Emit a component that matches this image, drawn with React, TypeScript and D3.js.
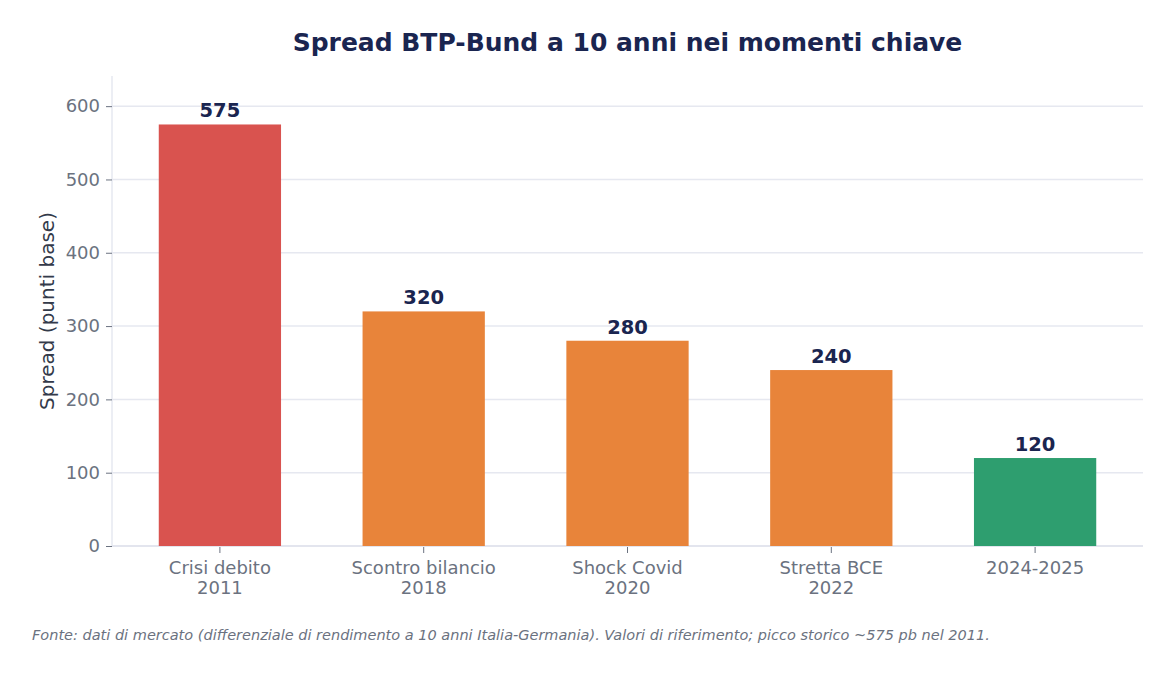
import React, { useEffect, useRef } from 'react';
import * as d3 from 'd3';

const categories = ['Crisi debito\n2011', 'Scontro bilancio\n2018', 'Shock Covid\n2020', 'Stretta BCE\n2022', '2024-2025'];
const spreadValues = [575, 320, 280, 240, 120];
const barColors = ['#d9534f', '#e8843a', '#e8843a', '#e8843a', '#2e9e6f'];
const yTicks = [0, 100, 200, 300, 400, 500, 600];

const titleText = 'Spread BTP-Bund a 10 anni nei momenti chiave';
const yLabel = 'Spread (punti base)';
const sourceNote =
  'Fonte: dati di mercato (differenziale di rendimento a 10 anni Italia-Germania). Valori di riferimento; picco storico ~575 pb nel 2011.';

const W = 1175;
const H = 675;
const FONT = "'DejaVu Sans', sans-serif";

export default function App() {
  const svgRef = useRef<SVGSVGElement>(null);

  useEffect(() => {
    if (!svgRef.current) return;
    const svg = d3.select(svgRef.current);
    svg.selectAll('*').remove();

    const margin = { top: 76, right: 32, bottom: 129, left: 112 };
    const width = W - margin.left - margin.right;
    const height = H - margin.top - margin.bottom;

    const g = svg.append('g').attr('transform', `translate(${margin.left},${margin.top})`);

    const x = d3
      .scaleBand<string>()
      .domain(categories)
      .range([6, width - 6])
      .paddingInner(0.4)
      .paddingOuter(0.2);

    const y = d3
      .scaleLinear()
      .domain([0, (d3.max(spreadValues) || 0) * 1.115])
      .range([height, 0]);

    // grid
    g.selectAll('.grid')
      .data(yTicks)
      .enter()
      .append('line')
      .attr('x1', 0)
      .attr('x2', width)
      .attr('y1', d => y(d))
      .attr('y2', d => y(d))
      .attr('stroke', '#e6e8f0')
      .attr('stroke-width', 1.5);

    // axis lines
    g.append('line')
      .attr('x1', 0)
      .attr('x2', 0)
      .attr('y1', 0)
      .attr('y2', height)
      .attr('stroke', '#e6e8f0')
      .attr('stroke-width', 1.5);
    g.append('line')
      .attr('x1', 0)
      .attr('x2', width)
      .attr('y1', height)
      .attr('y2', height)
      .attr('stroke', '#e3e5ee')
      .attr('stroke-width', 2);

    // bars
    g.selectAll('.bar')
      .data(spreadValues)
      .enter()
      .append('rect')
      .attr('x', (_, i) => x(categories[i]) as number)
      .attr('width', x.bandwidth())
      .attr('y', d => y(d))
      .attr('height', d => height - y(d))
      .attr('fill', (_, i) => barColors[i]);

    // value labels
    g.selectAll('.val')
      .data(spreadValues)
      .enter()
      .append('text')
      .attr('x', (_, i) => (x(categories[i]) as number) + x.bandwidth() / 2)
      .attr('y', d => y(d) - 7)
      .attr('text-anchor', 'middle')
      .attr('font-family', FONT)
      .attr('font-size', 19.5)
      .attr('font-weight', 'bold')
      .attr('fill', '#1a2550')
      .text(d => d);

    // y axis
    const yAxis = g.append('g').call(
      d3.axisLeft(y).tickValues(yTicks).tickSize(6).tickSizeOuter(0).tickPadding(6)
    );
    yAxis.select('.domain').remove();
    yAxis.selectAll('line').attr('stroke', '#6b7280');
    yAxis
      .selectAll('text')
      .attr('font-family', FONT)
      .attr('font-size', 18)
      .attr('fill', '#6b7280');

    // x axis
    const xAxis = g
      .append('g')
      .attr('transform', `translate(0,${height + 1})`)
      .call(d3.axisBottom(x).tickSize(6).tickSizeOuter(0).tickFormat(() => ''));
    xAxis.select('.domain').remove();
    xAxis.selectAll('line').attr('stroke', '#6b7280');

    xAxis
      .selectAll('.tick')
      .append('text')
      .attr('text-anchor', 'middle')
      .attr('font-family', FONT)
      .attr('font-size', 18)
      .attr('fill', '#6b7280')
      .each(function (d) {
        const lines = String(d).split('\n');
        const t = d3.select(this);
        lines.forEach((ln, k) => {
          t.append('tspan')
            .attr('x', 0)
            .attr('y', 27 + k * 20)
            .text(ln);
        });
      });

    // y axis title
    svg
      .append('text')
      .attr('transform', `translate(54,${margin.top + height / 2}) rotate(-90)`)
      .attr('text-anchor', 'middle')
      .attr('font-family', FONT)
      .attr('font-size', 20)
      .attr('fill', '#333a4a')
      .text(yLabel);

    // title
    svg
      .append('text')
      .attr('x', margin.left + width / 2)
      .attr('y', 51)
      .attr('text-anchor', 'middle')
      .attr('font-family', FONT)
      .attr('font-size', 25)
      .attr('font-weight', 'bold')
      .attr('fill', '#1a2550')
      .text(titleText);

    // source note
    svg
      .append('text')
      .attr('x', 32)
      .attr('y', 640)
      .attr('font-family', FONT)
      .attr('font-size', 14.5)
      .attr('font-style', 'italic')
      .attr('fill', '#6b7280')
      .text(sourceNote);
  }, []);

  return (
    <svg
      ref={svgRef}
      width={W}
      height={H}
      style={{ position: 'absolute', left: 0, top: 0, background: '#fff' }}
    />
  );
}
